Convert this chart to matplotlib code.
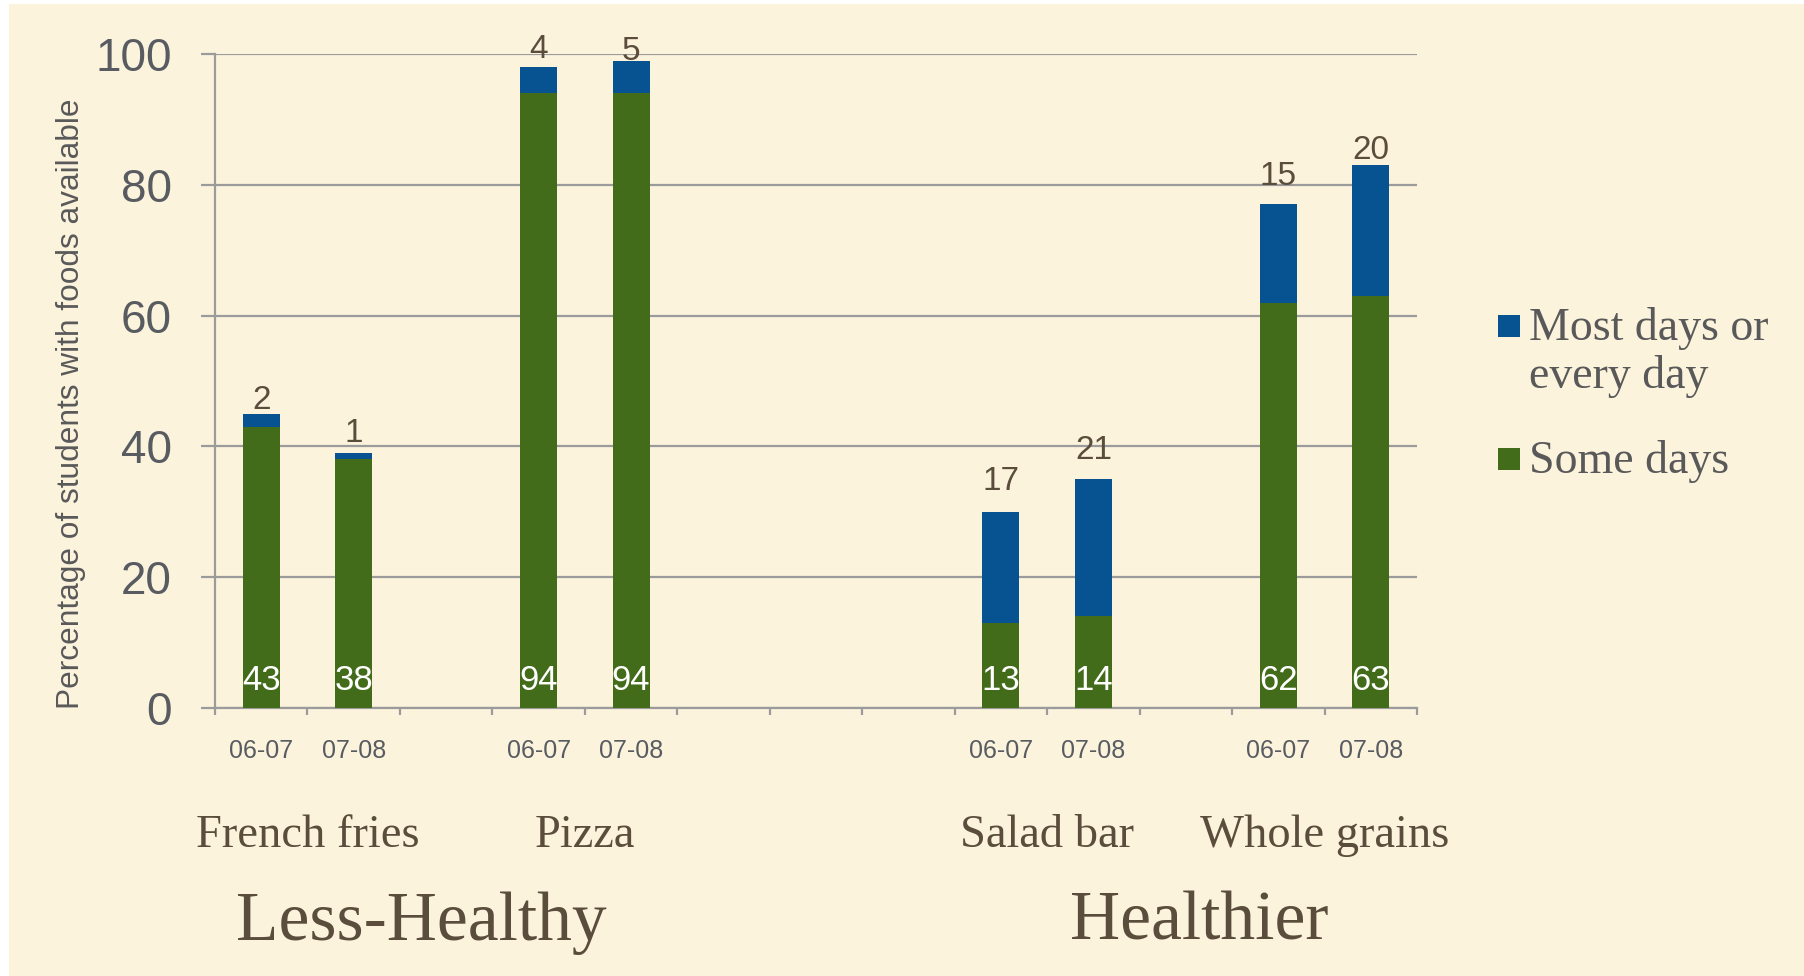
import matplotlib
matplotlib.use("Agg")
import matplotlib.pyplot as plt
from matplotlib.patches import Rectangle
from matplotlib.transforms import blended_transform_factory

# ---- data -------------------------------------------------------------
foods = ["French fries", "Pizza", "Salad bar", "Whole grains"]
groups = ["Less-Healthy", "Healthier"]
years = ["06-07", "07-08"]
some_days = [43, 38, 94, 94, 13, 14, 62, 63]
most_days = [2, 1, 4, 5, 17, 21, 15, 20]
y_ticks = [0, 20, 40, 60, 80, 100]
series_names = ["Most days or\nevery day", "Some days"]

# ---- layout -----------------------------------------------------------
W, H = 1804, 976
CREAM = "#FCF3DD"
GREEN = "#426B1A"
BLUE = "#075391"
GRID = "#9B9B9B"
TICK_TXT = "#585C61"
BROWN = "#5A4D3C"

n_slots = 13                       # 13 equal slots along x, some left empty
slots = [0, 1, 3, 4, 8, 9, 11, 12]  # slot index of each bar
top_label_rise = [0.7, 1.6, 1.4, 0.1, 3.4, 3.0, 3.0, 0.9]  # baseline above bar top
food_centres = [0.5, 3.5, 8.5, 11.5]
group_centres = [1.73, 10.15]

SANS = ["Liberation Sans", "DejaVu Sans"]
SERIF = ["Liberation Serif", "DejaVu Serif"]

fig = plt.figure(figsize=(W / 100, H / 100), dpi=100, facecolor="white")
fig.patches.append(Rectangle((9 / W, 0), 1 - 9 / W, 1 - 4 / H,
                             transform=fig.transFigure, facecolor=CREAM,
                             edgecolor="none", zorder=-5))

ax = fig.add_axes([215 / W, 1 - 708 / H, (1417 - 215) / W, (708 - 54) / H])
ax.set_zorder(1)
ax.patch.set_visible(False)

# ---- bars -------------------------------------------------------------
bw = 0.4
ax.bar(slots, some_days, width=bw, color=GREEN, zorder=3)
totals = [s + m for s, m in zip(some_days, most_days)]
ax.bar(slots, most_days, bottom=some_days, width=bw, color=BLUE, zorder=3)

for x, s, m, t, rise in zip(slots, some_days, most_days, totals, top_label_rise):
    ax.text(x, 2.75, f"{s}", ha="center", va="baseline", color="white",
            fontsize=25, family=SANS, zorder=4)
    ax.text(x, t + rise, f"{m}", ha="center", va="baseline", color=BROWN,
            fontsize=24, family=SANS, zorder=4)

# ---- axes -------------------------------------------------------------
ax.set_xlim(-0.5, n_slots - 0.5)
ax.set_ylim(0, 100)
ax.set_yticks(y_ticks)
ax.set_yticklabels([str(v) for v in y_ticks], fontsize=33, family=SANS,
                   color=TICK_TXT)
ax.yaxis.grid(True, color=GRID, linewidth=1.6, zorder=1)
ax.set_axisbelow(True)
ax.tick_params(axis="y", length=10, width=1.6, color=GRID, pad=21)

ax.set_xticks(slots)
ax.set_xticklabels(years * len(foods), fontsize=18, family=SANS, color=TICK_TXT)
ax.set_xticks([i - 0.5 for i in range(n_slots + 1)], minor=True)
ax.tick_params(axis="x", which="major", length=0, pad=22)
ax.tick_params(axis="x", which="minor", length=5, width=1.6, color=GRID)

for side in ("top", "right"):
    ax.spines[side].set_visible(False)
for side in ("left", "bottom"):
    ax.spines[side].set_color(GRID)
    ax.spines[side].set_linewidth(1.6)

fig.text(71 / W, 1 - 404 / H, "Percentage of students with foods available",
         rotation=90, ha="center", va="center", fontsize=22.8, family=SANS,
         color="#595959")

# ---- category and group captions --------------------------------------
trans = blended_transform_factory(ax.transData, fig.transFigure)
for xc, name in zip(food_centres, foods):
    ax.text(xc, 1 - 847 / H, name, transform=trans, ha="center",
            va="baseline", fontsize=33.5, family=SERIF, color=BROWN,
            clip_on=False)
for xc, name in zip(group_centres, groups):
    ax.text(xc, 1 - 940 / H, name, transform=trans, ha="center",
            va="baseline", fontsize=50, family=SERIF, color=BROWN,
            clip_on=False)

# ---- legend -----------------------------------------------------------
sq = 22
for (top, colour) in ((315, BLUE), (448, GREEN)):
    fig.patches.append(Rectangle((1498 / W, 1 - (top + sq) / H), sq / W, sq / H,
                                 transform=fig.transFigure, facecolor=colour,
                                 edgecolor="none", zorder=2))
legend_lines = series_names[0].split("\n") + [series_names[1]]
for base, line in zip((340, 388, 473), legend_lines):
    fig.text(1529 / W, 1 - base / H, line, ha="left", va="baseline",
             fontsize=33, family=SERIF, color="#595959")

fig.savefig("out.png", dpi=100, facecolor=fig.get_facecolor())
